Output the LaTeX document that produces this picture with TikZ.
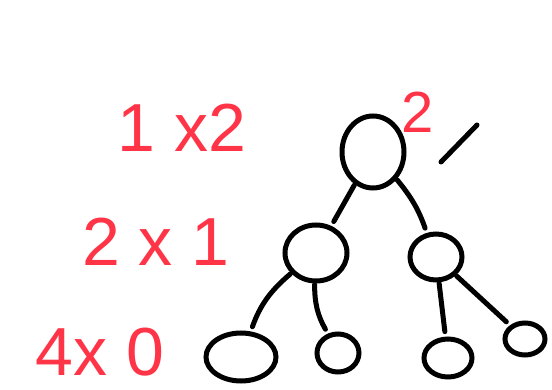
\documentclass[tikz,border=0pt]{standalone}
\usepackage{fontspec}
\setmainfont{Liberation Sans}
\usepackage{xcolor}
\definecolor{sketchRed}{HTML}{FF3447}
\definecolor{sketchInk}{HTML}{000000}
\usepackage{tikz}
\usetikzlibrary{
  shapes.geometric,
  arrows.meta
}
\tikzset{
  treenode/.style={
    ellipse,draw=sketchInk,line width=5pt,
    inner sep=0pt,minimum width=#1
  },
  edge/.style={-,line width=5pt,line cap=round,color=sketchInk,
    shorten <=1pt,shorten >=5pt},
  countlbl/.style={text=sketchRed,font=\fontsize{68}{68}\selectfont,
    inner sep=0pt}
}

\begin{document}
\begin{tikzpicture}[x=1pt,y=-1pt]
\useasboundingbox[fill=white] (0,0) rectangle (552,390);

%% ── Tree nodes ───────────────────────────────────────────
\node[treenode=62pt,minimum height=72pt] (root) at (373,152) {};
\node[treenode=62pt,minimum height=56pt] (left) at (316,253) {};
\node[treenode=52pt,minimum height=46pt] (right) at (436,257) {};
\node[treenode=70pt,minimum height=48pt] (ll) at (241,357) {};
\node[treenode=42pt,minimum height=38pt] (lr) at (338,353) {};
\node[treenode=48pt,minimum height=38pt] (rl) at (448,358) {};
\node[treenode=40pt,minimum height=32pt] (rr) at (525,339) {};

%% ── Edges ────────────────────────────────────────────────
\draw[edge] (root) -- (left);
\draw[edge] (root) to[bend left=10] (right);
\draw[edge] (left) to[bend right=15] (ll);
\draw[edge] (left) to[bend right=15] (lr);
\draw[edge] (right) -- (rl);
\draw[edge] (right) -- (rr);

%% ── Counts per level ─────────────────────────────────────
\node[countlbl] (lvl0) at (182,128) {1 x2};
\node[countlbl] (lvl1) at (156,242) {2 x 1};
\node[countlbl] (lvl2) at (100,352) {4x 0};
\node[countlbl,font=\fontsize{58}{58}\selectfont] (rootcnt) at (418,112) {2};

%% ── Stray stroke beside the root ─────────────────────────
\coordinate (slashA) at (441,162);
\coordinate (slashB) at (477,125);
\draw[edge,shorten <=0pt,shorten >=0pt] (slashA) -- (slashB);

\end{tikzpicture}
\end{document}
